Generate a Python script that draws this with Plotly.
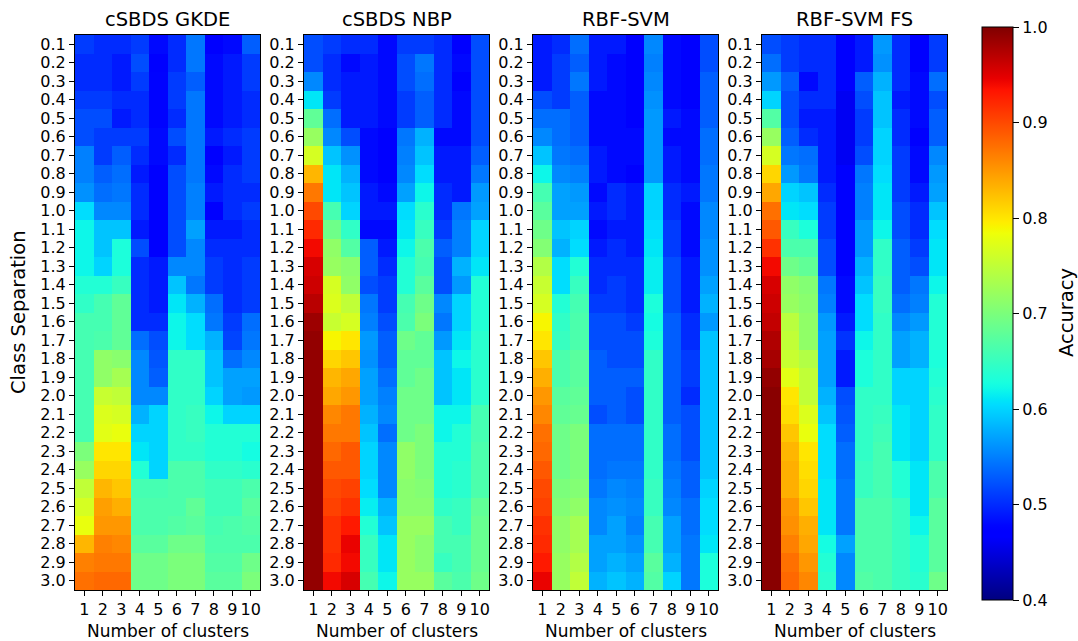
import numpy as np
import plotly.graph_objects as go

# ---------------- data ----------------
separations = [round(0.1 * i, 1) for i in range(1, 31)]
sep_labels = [f"{s:.1f}" for s in separations]
clusters = list(range(1, 11))
cluster_labels = [str(c) for c in clusters]
titles = ["cSBDS GKDE", "cSBDS NBP", "RBF-SVM", "RBF-SVM FS"]
cbar_ticks = [0.4, 0.5, 0.6, 0.7, 0.8, 0.9, 1.0]

# cSBDS GKDE: one row per class separation (0.1 .. 3.0), columns = clusters 1..10
gkde_rows = [
    [0.51, 0.50, 0.50, 0.51, 0.48, 0.50, 0.545, 0.47, 0.48, 0.53],
    [0.50, 0.50, 0.49, 0.52, 0.47, 0.50, 0.545, 0.48, 0.49, 0.51],
    [0.50, 0.50, 0.49, 0.51, 0.475, 0.51, 0.53, 0.48, 0.49, 0.51],
    [0.51, 0.51, 0.50, 0.50, 0.475, 0.51, 0.545, 0.48, 0.49, 0.50],
    [0.52, 0.52, 0.49, 0.50, 0.475, 0.50, 0.545, 0.48, 0.49, 0.50],
    [0.52, 0.51, 0.51, 0.51, 0.48, 0.52, 0.545, 0.49, 0.50, 0.51],
    [0.55, 0.51, 0.53, 0.50, 0.48, 0.50, 0.545, 0.47, 0.49, 0.51],
    [0.55, 0.53, 0.54, 0.49, 0.47, 0.52, 0.545, 0.48, 0.50, 0.51],
    [0.56, 0.54, 0.545, 0.50, 0.47, 0.52, 0.55, 0.49, 0.50, 0.50],
    [0.605, 0.555, 0.555, 0.50, 0.47, 0.52, 0.55, 0.47, 0.50, 0.51],
    [0.62, 0.59, 0.59, 0.49, 0.47, 0.52, 0.57, 0.49, 0.49, 0.50],
    [0.62, 0.59, 0.63, 0.52, 0.47, 0.52, 0.555, 0.50, 0.50, 0.50],
    [0.62, 0.60, 0.63, 0.50, 0.49, 0.555, 0.555, 0.51, 0.50, 0.51],
    [0.635, 0.635, 0.65, 0.50, 0.49, 0.59, 0.545, 0.51, 0.50, 0.51],
    [0.645, 0.66, 0.68, 0.50, 0.49, 0.61, 0.58, 0.54, 0.50, 0.51],
    [0.66, 0.66, 0.68, 0.50, 0.50, 0.62, 0.605, 0.545, 0.51, 0.54],
    [0.66, 0.665, 0.68, 0.54, 0.52, 0.62, 0.605, 0.58, 0.515, 0.545],
    [0.66, 0.715, 0.71, 0.555, 0.525, 0.645, 0.645, 0.59, 0.54, 0.555],
    [0.66, 0.715, 0.73, 0.555, 0.53, 0.645, 0.645, 0.59, 0.57, 0.57],
    [0.66, 0.755, 0.75, 0.555, 0.555, 0.645, 0.645, 0.60, 0.57, 0.565],
    [0.66, 0.77, 0.765, 0.58, 0.60, 0.645, 0.65, 0.62, 0.60, 0.60],
    [0.66, 0.775, 0.78, 0.60, 0.60, 0.645, 0.65, 0.635, 0.635, 0.635],
    [0.70, 0.80, 0.80, 0.61, 0.60, 0.645, 0.645, 0.635, 0.635, 0.625],
    [0.72, 0.81, 0.81, 0.635, 0.60, 0.665, 0.665, 0.645, 0.645, 0.64],
    [0.75, 0.83, 0.82, 0.66, 0.66, 0.665, 0.665, 0.655, 0.655, 0.665],
    [0.765, 0.845, 0.835, 0.665, 0.665, 0.665, 0.68, 0.655, 0.655, 0.675],
    [0.78, 0.85, 0.85, 0.665, 0.665, 0.67, 0.675, 0.66, 0.665, 0.67],
    [0.83, 0.865, 0.86, 0.675, 0.675, 0.69, 0.69, 0.665, 0.665, 0.665],
    [0.865, 0.87, 0.87, 0.69, 0.69, 0.70, 0.70, 0.67, 0.67, 0.69],
    [0.875, 0.88, 0.88, 0.69, 0.69, 0.70, 0.70, 0.675, 0.675, 0.70],
]

# cSBDS NBP: one list per cluster count (1..10), values for separation 0.1 .. 3.0
nbp_cols = [
    [0.52, 0.52, 0.555, 0.61, 0.68, 0.72, 0.765, 0.83, 0.87, 0.90, 0.92, 0.94, 0.955, 0.96, 0.97,
     0.985, 0.99, 0.99, 0.99, 0.99, 0.99, 0.99, 0.99, 0.99, 0.99, 0.99, 0.99, 0.99, 0.99, 0.99],
    [0.51, 0.50, 0.50, 0.51, 0.54, 0.555, 0.59, 0.61, 0.61, 0.66, 0.69, 0.715, 0.72, 0.765, 0.77,
     0.755, 0.79, 0.81, 0.83, 0.84, 0.86, 0.87, 0.88, 0.89, 0.90, 0.905, 0.915, 0.915, 0.92, 0.94],
    [0.50, 0.48, 0.49, 0.49, 0.49, 0.52, 0.56, 0.58, 0.59, 0.60, 0.645, 0.67, 0.71, 0.715, 0.75,
     0.765, 0.80, 0.82, 0.84, 0.85, 0.87, 0.87, 0.89, 0.89, 0.905, 0.915, 0.93, 0.945, 0.94, 0.955],
    [0.50, 0.49, 0.49, 0.49, 0.49, 0.48, 0.48, 0.48, 0.49, 0.49, 0.48, 0.53, 0.53, 0.52, 0.545,
     0.55, 0.565, 0.56, 0.57, 0.57, 0.58, 0.59, 0.60, 0.60, 0.605, 0.615, 0.635, 0.65, 0.65, 0.66],
    [0.48, 0.48, 0.48, 0.48, 0.48, 0.47, 0.47, 0.47, 0.48, 0.49, 0.48, 0.49, 0.50, 0.51, 0.51,
     0.52, 0.53, 0.53, 0.54, 0.55, 0.555, 0.54, 0.555, 0.555, 0.555, 0.58, 0.59, 0.61, 0.61, 0.62],
    [0.51, 0.52, 0.52, 0.51, 0.51, 0.545, 0.55, 0.555, 0.57, 0.605, 0.61, 0.62, 0.635, 0.635, 0.66,
     0.665, 0.69, 0.68, 0.68, 0.69, 0.69, 0.69, 0.715, 0.715, 0.71, 0.71, 0.72, 0.72, 0.72, 0.72],
    [0.51, 0.545, 0.54, 0.53, 0.53, 0.58, 0.59, 0.605, 0.62, 0.64, 0.65, 0.665, 0.66, 0.675, 0.69,
     0.70, 0.68, 0.68, 0.69, 0.69, 0.69, 0.70, 0.70, 0.70, 0.705, 0.71, 0.72, 0.71, 0.71, 0.72],
    [0.50, 0.50, 0.50, 0.50, 0.50, 0.48, 0.49, 0.49, 0.50, 0.50, 0.51, 0.53, 0.52, 0.52, 0.555,
     0.545, 0.565, 0.59, 0.59, 0.59, 0.62, 0.62, 0.635, 0.635, 0.635, 0.645, 0.66, 0.66, 0.65, 0.675],
    [0.47, 0.48, 0.47, 0.48, 0.48, 0.48, 0.49, 0.49, 0.49, 0.545, 0.55, 0.55, 0.58, 0.565, 0.60,
     0.60, 0.61, 0.62, 0.61, 0.61, 0.62, 0.635, 0.635, 0.64, 0.64, 0.65, 0.65, 0.66, 0.66, 0.665],
    [0.52, 0.52, 0.52, 0.52, 0.52, 0.52, 0.53, 0.545, 0.565, 0.57, 0.60, 0.60, 0.61, 0.635, 0.635,
     0.635, 0.64, 0.64, 0.64, 0.64, 0.66, 0.66, 0.665, 0.665, 0.665, 0.68, 0.685, 0.685, 0.685, 0.69],
]

# RBF-SVM: one list per cluster count
svm_cols = [
    [0.49, 0.49, 0.49, 0.52, 0.54, 0.555, 0.59, 0.62, 0.66, 0.675, 0.69, 0.705, 0.74, 0.755, 0.765,
     0.79, 0.80, 0.82, 0.835, 0.85, 0.86, 0.875, 0.88, 0.89, 0.90, 0.905, 0.915, 0.92, 0.93, 0.945],
    [0.50, 0.51, 0.51, 0.51, 0.54, 0.54, 0.545, 0.555, 0.57, 0.57, 0.59, 0.58, 0.605, 0.605, 0.635,
     0.645, 0.65, 0.665, 0.665, 0.675, 0.68, 0.69, 0.69, 0.69, 0.70, 0.705, 0.715, 0.715, 0.72, 0.72],
    [0.54, 0.53, 0.545, 0.53, 0.53, 0.53, 0.54, 0.55, 0.565, 0.57, 0.60, 0.605, 0.635, 0.65, 0.66,
     0.665, 0.665, 0.675, 0.675, 0.68, 0.685, 0.70, 0.70, 0.70, 0.705, 0.715, 0.73, 0.73, 0.74, 0.75],
    [0.49, 0.49, 0.49, 0.48, 0.48, 0.48, 0.49, 0.49, 0.48, 0.49, 0.48, 0.49, 0.50, 0.50, 0.51,
     0.52, 0.52, 0.53, 0.53, 0.53, 0.52, 0.54, 0.54, 0.54, 0.545, 0.555, 0.555, 0.57, 0.57, 0.58],
    [0.49, 0.48, 0.48, 0.48, 0.48, 0.48, 0.48, 0.48, 0.50, 0.50, 0.49, 0.50, 0.50, 0.51, 0.51,
     0.52, 0.52, 0.52, 0.53, 0.53, 0.53, 0.54, 0.54, 0.545, 0.555, 0.56, 0.57, 0.57, 0.58, 0.59],
    [0.47, 0.47, 0.47, 0.47, 0.47, 0.48, 0.48, 0.47, 0.49, 0.49, 0.49, 0.49, 0.50, 0.50, 0.50,
     0.51, 0.52, 0.52, 0.53, 0.52, 0.52, 0.54, 0.54, 0.545, 0.55, 0.555, 0.55, 0.56, 0.57, 0.58],
    [0.555, 0.55, 0.555, 0.56, 0.565, 0.565, 0.565, 0.565, 0.60, 0.60, 0.605, 0.61, 0.615, 0.615, 0.63,
     0.625, 0.63, 0.645, 0.645, 0.645, 0.645, 0.645, 0.645, 0.645, 0.65, 0.65, 0.66, 0.66, 0.675, 0.67],
    [0.48, 0.48, 0.48, 0.48, 0.49, 0.48, 0.49, 0.49, 0.50, 0.50, 0.51, 0.51, 0.52, 0.52, 0.52,
     0.53, 0.53, 0.53, 0.53, 0.53, 0.53, 0.54, 0.54, 0.545, 0.55, 0.555, 0.57, 0.57, 0.58, 0.60],
    [0.47, 0.47, 0.47, 0.47, 0.48, 0.48, 0.48, 0.48, 0.49, 0.48, 0.48, 0.48, 0.49, 0.49, 0.49,
     0.50, 0.50, 0.51, 0.51, 0.50, 0.52, 0.52, 0.52, 0.53, 0.53, 0.54, 0.54, 0.545, 0.545, 0.545],
    [0.52, 0.52, 0.53, 0.53, 0.53, 0.54, 0.54, 0.545, 0.545, 0.555, 0.555, 0.56, 0.56, 0.57, 0.58,
     0.565, 0.59, 0.59, 0.59, 0.59, 0.59, 0.59, 0.59, 0.59, 0.60, 0.605, 0.605, 0.61, 0.63, 0.63],
]

# RBF-SVM FS: one list per cluster count
svmfs_cols = [
    [0.52, 0.54, 0.565, 0.60, 0.67, 0.72, 0.765, 0.81, 0.84, 0.875, 0.89, 0.915, 0.94, 0.955, 0.96,
     0.965, 0.975, 0.98, 0.99, 0.995, 0.995, 0.995, 0.995, 0.995, 0.995, 0.995, 0.995, 0.995, 0.995, 0.995],
    [0.51, 0.51, 0.53, 0.52, 0.52, 0.53, 0.545, 0.565, 0.60, 0.61, 0.65, 0.665, 0.69, 0.715, 0.72,
     0.745, 0.75, 0.755, 0.775, 0.80, 0.805, 0.82, 0.83, 0.835, 0.835, 0.85, 0.855, 0.865, 0.875, 0.88],
    [0.50, 0.50, 0.48, 0.50, 0.49, 0.50, 0.54, 0.545, 0.59, 0.605, 0.63, 0.665, 0.68, 0.705, 0.71,
     0.715, 0.715, 0.74, 0.75, 0.75, 0.77, 0.78, 0.80, 0.805, 0.81, 0.82, 0.835, 0.84, 0.85, 0.86],
    [0.50, 0.50, 0.50, 0.50, 0.49, 0.49, 0.49, 0.49, 0.50, 0.51, 0.51, 0.52, 0.52, 0.545, 0.55,
     0.565, 0.57, 0.57, 0.57, 0.58, 0.59, 0.605, 0.605, 0.605, 0.61, 0.61, 0.61, 0.625, 0.635, 0.64],
    [0.47, 0.47, 0.47, 0.46, 0.46, 0.46, 0.46, 0.47, 0.47, 0.47, 0.47, 0.47, 0.47, 0.48, 0.48,
     0.49, 0.505, 0.49, 0.49, 0.52, 0.525, 0.53, 0.54, 0.54, 0.545, 0.545, 0.545, 0.57, 0.555, 0.555],
    [0.49, 0.49, 0.53, 0.52, 0.51, 0.51, 0.52, 0.545, 0.55, 0.55, 0.565, 0.565, 0.58, 0.59, 0.605,
     0.605, 0.62, 0.63, 0.63, 0.645, 0.645, 0.645, 0.645, 0.65, 0.65, 0.665, 0.665, 0.665, 0.665, 0.67],
    [0.565, 0.56, 0.58, 0.59, 0.59, 0.60, 0.60, 0.605, 0.61, 0.61, 0.62, 0.645, 0.645, 0.65, 0.65,
     0.645, 0.645, 0.645, 0.645, 0.645, 0.65, 0.655, 0.66, 0.66, 0.66, 0.665, 0.665, 0.665, 0.665, 0.665],
    [0.50, 0.50, 0.50, 0.49, 0.50, 0.50, 0.51, 0.51, 0.51, 0.52, 0.52, 0.53, 0.53, 0.53, 0.54,
     0.555, 0.57, 0.57, 0.60, 0.60, 0.61, 0.61, 0.61, 0.635, 0.635, 0.65, 0.65, 0.65, 0.65, 0.65],
    [0.47, 0.47, 0.48, 0.48, 0.48, 0.47, 0.48, 0.48, 0.49, 0.50, 0.50, 0.51, 0.52, 0.545, 0.55,
     0.565, 0.58, 0.58, 0.60, 0.60, 0.60, 0.60, 0.60, 0.61, 0.61, 0.61, 0.62, 0.635, 0.635, 0.64],
    [0.51, 0.51, 0.54, 0.52, 0.53, 0.53, 0.555, 0.565, 0.57, 0.59, 0.605, 0.61, 0.61, 0.62, 0.635,
     0.635, 0.635, 0.63, 0.635, 0.64, 0.645, 0.645, 0.645, 0.665, 0.665, 0.675, 0.675, 0.675, 0.675, 0.69],
]

panels = [
    np.array(gkde_rows),
    np.array(nbp_cols).T,
    np.array(svm_cols).T,
    np.array(svmfs_cols).T,
]

# ---------------- matplotlib "jet" colour scale ----------------
def jet(t):
    r = np.interp(t, [0, 0.35, 0.66, 0.89, 1], [0, 0, 1, 1, 0.5])
    g = np.interp(t, [0, 0.125, 0.375, 0.64, 0.91, 1], [0, 0, 1, 1, 0, 0])
    b = np.interp(t, [0, 0.11, 0.34, 0.65, 1], [0.5, 1, 1, 0, 0])
    return f"rgb({int(round(r*255))},{int(round(g*255))},{int(round(b*255))})"

jet_scale = [[float(t), jet(t)] for t in np.linspace(0, 1, 101)]

# ---------------- layout geometry (pixels) ----------------
W, H = 1078, 641
panel_x = [(75, 260), (304, 489), (533, 718), (762, 947)]
top_px, bot_px = 35, 590
FONT = "DejaVu Sans"
TICK_SIZE = 16
LABEL_SIZE = 19.5
XLABEL_SIZE = 17

fig = go.Figure()
layout_axes = {}
annotations = []
for i, (z, title, (x0, x1)) in enumerate(zip(panels, titles, panel_x)):
    n = i + 1
    xa = "x" if n == 1 else f"x{n}"
    ya = "y" if n == 1 else f"y{n}"
    fig.add_trace(go.Heatmap(
        z=z, x=clusters, y=separations, xaxis=xa, yaxis=ya,
        coloraxis="coloraxis", hovertemplate="k=%{x}<br>sep=%{y}<br>acc=%{z:.3f}<extra></extra>",
    ))
    xkey = "xaxis" if n == 1 else f"xaxis{n}"
    ykey = "yaxis" if n == 1 else f"yaxis{n}"
    layout_axes[xkey] = dict(
        domain=[x0 / W, x1 / W], anchor=ya, range=[0.5, 10.5],
        tickmode="array", tickvals=clusters, ticktext=cluster_labels,
        ticks="outside", ticklen=5, tickwidth=1, tickcolor="black",
        showline=True, mirror=True, linecolor="black", linewidth=1,
        showgrid=False, zeroline=False,
        tickfont=dict(family=FONT, size=TICK_SIZE, color="black"),
    )
    layout_axes[ykey] = dict(
        domain=[1 - bot_px / H, 1 - top_px / H], anchor=xa, range=[3.05, 0.05],
        tickmode="array", tickvals=separations, ticktext=sep_labels,
        ticks="outside", ticklen=5, tickwidth=1, tickcolor="black",
        showline=True, mirror=True, linecolor="black", linewidth=1,
        showgrid=False, zeroline=False,
        tickfont=dict(family=FONT, size=TICK_SIZE, color="black"),
    )
    annotations.append(dict(
        text=title, x=(x0 + x1) / 2 / W, y=1 - 20 / H, xref="paper", yref="paper",
        xanchor="center", yanchor="middle", showarrow=False,
        font=dict(family=FONT, size=LABEL_SIZE, color="black"),
    ))
    annotations.append(dict(
        text="Number of clusters", x=(x0 + x1) / 2 / W, y=1 - 631 / H, xref="paper", yref="paper",
        xanchor="center", yanchor="middle", showarrow=False,
        font=dict(family=FONT, size=XLABEL_SIZE, color="black"),
    ))

annotations.append(dict(
    text="Class Separation", x=18 / W, y=1 - 312 / H, xref="paper", yref="paper",
    xanchor="center", yanchor="middle", showarrow=False, textangle=-90,
    font=dict(family=FONT, size=LABEL_SIZE, color="black"),
))
annotations.append(dict(
    text="Accuracy", x=1066 / W, y=1 - 313 / H, xref="paper", yref="paper",
    xanchor="center", yanchor="middle", showarrow=False, textangle=-90,
    font=dict(family=FONT, size=LABEL_SIZE, color="black"),
))

fig.update_layout(
    width=W, height=H, margin=dict(l=0, r=0, t=0, b=0),
    paper_bgcolor="white", plot_bgcolor="white",
    font=dict(family=FONT, color="black"),
    annotations=annotations,
    coloraxis=dict(
        colorscale=jet_scale, cmin=0.4, cmax=1.0,
        colorbar=dict(
            x=982 / W, xanchor="left", xpad=0,
            y=1 - 313.5 / H, yanchor="middle", ypad=0,
            len=573, lenmode="pixels", thickness=31, thicknessmode="pixels",
            outlinewidth=1, outlinecolor="black",
            tickmode="array", tickvals=cbar_ticks, ticktext=[f"{v:.1f}" for v in cbar_ticks],
            ticks="outside", ticklen=6, tickcolor="black",
            tickfont=dict(family=FONT, size=TICK_SIZE, color="black"),
        ),
    ),
    **layout_axes,
)

fig.write_html("out.html")
